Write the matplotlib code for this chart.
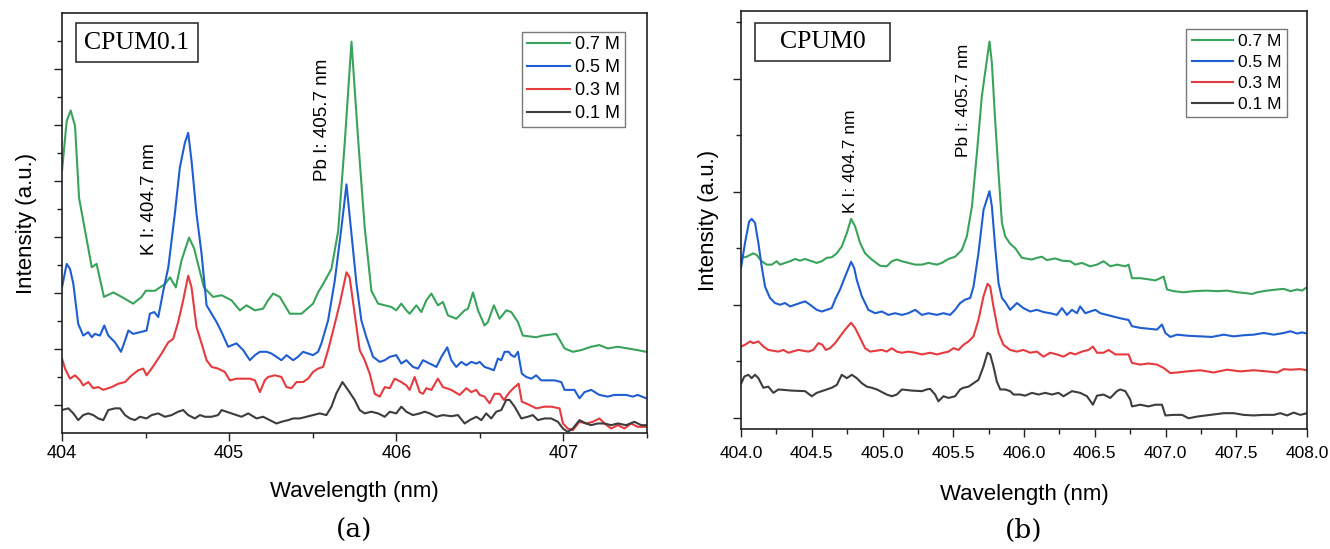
import numpy as np
import matplotlib.pyplot as plt
from matplotlib.patches import Rectangle

# ---- (a) CPUM0.1 spectra: wavelength (nm) / intensity (a.u.) ----
wl_a_07 = [404.000, 404.028, 404.052, 404.078, 404.102, 404.178, 404.207, 404.251, 404.307, 404.357,
           404.426, 404.476, 404.502, 404.556, 404.616, 404.646, 404.681, 404.715, 404.760, 404.790,
           404.849, 404.904, 404.955, 405.014, 405.064, 405.104, 405.154, 405.203, 405.233, 405.263,
           405.303, 405.363, 405.433, 405.502, 405.532, 405.562, 405.612, 405.652, 405.692, 405.732,
           405.771, 405.811, 405.851, 405.891, 405.931, 405.971, 406.000, 406.030, 406.060, 406.080,
           406.120, 406.150, 406.180, 406.210, 406.249, 406.279, 406.309, 406.359, 406.409, 406.429,
           406.459, 406.489, 406.528, 406.548, 406.584, 406.618, 406.658, 406.688, 406.728, 406.757,
           406.837, 406.877, 406.957, 407.007, 407.056, 407.106, 407.166, 407.215, 407.265, 407.325,
           407.385, 407.444, 407.495]
int_a_07 = [46.8, 55.7, 57.6, 54.8, 42.0, 29.6, 30.2, 24.3, 25.1, 24.3,
            23.1, 24.3, 25.4, 25.4, 26.6, 27.8, 26.0, 30.8, 34.9, 33.0,
            26.0, 24.3, 24.6, 23.7, 21.9, 22.8, 21.9, 22.2, 23.7, 24.9,
            24.3, 21.3, 21.3, 23.1, 25.1, 26.6, 29.3, 36.0, 52.0, 69.9,
            52.7, 36.7, 25.4, 23.1, 22.8, 22.5, 21.9, 23.1, 21.9, 21.3,
            22.8, 21.6, 23.7, 24.9, 22.8, 23.4, 21.0, 20.4, 21.9, 22.2,
            25.1, 21.9, 19.2, 19.8, 22.8, 20.4, 21.9, 21.6, 19.8, 17.4,
            17.1, 17.4, 17.7, 15.1, 14.5, 14.8, 15.4, 15.7, 15.1, 15.4,
            15.1, 14.8, 14.5]

wl_a_05 = [404.000, 404.028, 404.048, 404.068, 404.097, 404.127, 404.157, 404.178, 404.197, 404.227,
           404.253, 404.277, 404.317, 404.353, 404.377, 404.397, 404.426, 404.466, 404.506, 404.526,
           404.552, 404.576, 404.606, 404.636, 404.675, 404.705, 404.735, 404.755, 404.775, 404.805,
           404.835, 404.865, 404.895, 404.925, 404.955, 404.994, 405.044, 405.084, 405.124, 405.154,
           405.184, 405.224, 405.253, 405.283, 405.313, 405.343, 405.383, 405.412, 405.442, 405.472,
           405.502, 405.532, 405.552, 405.592, 405.632, 405.672, 405.702, 405.732, 405.762, 405.791,
           405.821, 405.861, 405.901, 405.931, 405.961, 406.000, 406.030, 406.060, 406.100, 406.130,
           406.160, 406.200, 406.240, 406.270, 406.305, 406.329, 406.359, 406.389, 406.419, 406.449,
           406.479, 406.499, 406.528, 406.558, 406.584, 406.608, 406.628, 406.648, 406.672, 406.688,
           406.708, 406.728, 406.751, 406.778, 406.808, 406.837, 406.867, 406.947, 406.987, 407.007,
           407.066, 407.096, 407.126, 407.166, 407.215, 407.265, 407.305, 407.375, 407.415, 407.444,
           407.495]
int_a_05 = [26.0, 30.2, 29.3, 26.6, 19.5, 17.4, 18.0, 17.1, 17.7, 17.4,
            19.2, 17.4, 16.2, 14.5, 16.5, 18.3, 17.7, 18.0, 18.3, 21.3,
            21.6, 20.7, 25.4, 29.6, 39.1, 47.4, 51.8, 53.6, 48.6, 39.1,
            32.0, 22.8, 21.3, 19.8, 18.0, 15.4, 16.0, 14.8, 13.0, 13.9,
            14.5, 14.5, 14.2, 13.6, 13.0, 13.9, 13.0, 13.6, 14.5, 14.2,
            13.9, 14.5, 16.0, 20.1, 27.2, 36.7, 44.4, 35.5, 26.6, 20.1,
            17.1, 13.6, 12.7, 13.0, 13.6, 13.9, 12.4, 13.0, 11.8, 11.5,
            13.0, 12.4, 11.8, 13.6, 15.3, 13.0, 11.8, 12.7, 12.1, 12.7,
            12.4, 12.7, 11.8, 11.5, 11.2, 13.3, 13.0, 14.5, 14.5, 13.9,
            13.6, 14.5, 10.6, 10.0, 9.7, 10.3, 9.4, 9.4, 9.1, 7.7,
            7.7, 6.2, 7.3, 7.7, 6.8, 6.5, 6.8, 6.8, 6.5, 6.8,
            6.2]

wl_a_03 = [404.000, 404.018, 404.048, 404.078, 404.108, 404.127, 404.157, 404.187, 404.217, 404.247,
           404.297, 404.337, 404.377, 404.417, 404.456, 404.486, 404.506, 404.536, 404.556, 404.596,
           404.636, 404.665, 404.695, 404.725, 404.755, 404.775, 404.805, 404.835, 404.865, 404.895,
           404.934, 404.974, 405.004, 405.044, 405.094, 405.124, 405.154, 405.184, 405.213, 405.233,
           405.273, 405.313, 405.343, 405.373, 405.403, 405.442, 405.472, 405.502, 405.532, 405.562,
           405.592, 405.622, 405.662, 405.702, 405.721, 405.751, 405.781, 405.811, 405.841, 405.871,
           405.901, 405.931, 405.961, 405.990, 406.030, 406.060, 406.080, 406.110, 406.140, 406.160,
           406.180, 406.210, 406.249, 406.279, 406.329, 406.379, 406.419, 406.449, 406.479, 406.499,
           406.528, 406.558, 406.588, 406.618, 406.644, 406.678, 406.708, 406.732, 406.751, 406.797,
           406.837, 406.887, 406.927, 406.977, 406.997, 407.026, 407.056, 407.096, 407.136, 407.176,
           407.215, 407.246, 407.285, 407.325, 407.365, 407.405, 407.444, 407.495]
int_a_03 = [13.3, 11.5, 9.7, 10.3, 9.4, 8.5, 9.1, 8.0, 8.2, 7.7,
            8.2, 8.8, 9.1, 10.3, 11.2, 11.5, 10.3, 11.5, 12.4, 14.2,
            16.2, 16.8, 19.8, 23.7, 28.1, 26.0, 18.9, 16.0, 13.0, 11.8,
            11.5, 10.9, 9.4, 9.7, 9.7, 9.7, 9.4, 7.3, 9.4, 10.0,
            10.3, 10.0, 8.2, 8.0, 9.1, 9.1, 9.7, 10.9, 11.5, 11.8,
            14.8, 18.3, 23.1, 28.7, 27.8, 21.3, 14.8, 13.0, 10.6, 7.0,
            6.5, 8.2, 8.0, 9.7, 9.1, 8.5, 7.7, 10.0, 7.3, 7.0,
            8.0, 7.7, 9.7, 8.2, 7.7, 6.8, 8.0, 7.3, 7.7, 6.8,
            6.5, 5.3, 7.0, 7.0, 5.9, 7.3, 8.2, 8.8, 5.6, 5.0,
            4.4, 4.7, 4.7, 4.4, 1.7, 0.8, 0.5, 2.0, 1.7, 2.0,
            2.6, 1.7, 0.8, 1.4, 0.8, 1.7, 1.1, 1.1]

wl_a_01 = [404.000, 404.038, 404.068, 404.097, 404.127, 404.157, 404.187, 404.217, 404.247, 404.277,
           404.317, 404.347, 404.377, 404.406, 404.436, 404.466, 404.506, 404.536, 404.576, 404.616,
           404.656, 404.695, 404.725, 404.755, 404.795, 404.825, 404.855, 404.895, 404.934, 404.955,
           404.984, 405.014, 405.044, 405.074, 405.114, 405.164, 405.203, 405.243, 405.283, 405.313,
           405.353, 405.383, 405.423, 405.463, 405.502, 405.542, 405.582, 405.612, 405.642, 405.678,
           405.711, 405.751, 405.781, 405.811, 405.851, 405.891, 405.931, 405.961, 406.000, 406.030,
           406.060, 406.100, 406.140, 406.170, 406.200, 406.240, 406.279, 406.329, 406.369, 406.409,
           406.439, 406.479, 406.509, 406.538, 406.568, 406.598, 406.628, 406.658, 406.678, 406.708,
           406.748, 406.787, 406.817, 406.847, 406.887, 406.927, 406.967, 406.997, 407.026, 407.056,
           407.096, 407.136, 407.166, 407.205, 407.246, 407.285, 407.325, 407.375, 407.425, 407.465,
           407.495]
int_a_01 = [4.1, 4.4, 3.5, 2.3, 3.2, 3.5, 3.2, 2.6, 2.3, 4.1,
            4.4, 4.4, 3.2, 2.6, 2.3, 2.9, 2.6, 3.2, 3.5, 2.9,
            3.2, 3.8, 4.1, 3.2, 2.6, 3.2, 2.9, 2.9, 3.2, 4.1,
            3.8, 3.5, 3.2, 2.9, 3.5, 2.6, 2.9, 2.3, 1.7, 2.0,
            2.3, 2.6, 2.6, 2.9, 3.2, 3.5, 3.2, 4.7, 7.1, 9.1,
            7.7, 5.9, 4.1, 3.5, 3.8, 3.5, 2.9, 3.8, 3.5, 4.7,
            3.8, 3.2, 3.5, 3.8, 3.5, 2.9, 3.2, 3.0, 3.2, 1.7,
            2.3, 2.9, 2.3, 3.5, 2.6, 3.8, 4.1, 5.9, 5.9, 4.7,
            2.6, 2.9, 3.2, 2.3, 2.6, 2.6, 2.0, 0.8, 0.2, 0.8,
            2.3, 1.7, 1.4, 1.7, 1.7, 1.4, 1.7, 1.4, 2.0, 1.4,
            1.4]

# ---- (b) CPUM0 spectra ----
wl_b_07 = [404.000, 404.040, 404.087, 404.111, 404.146, 404.182, 404.217, 404.252, 404.276, 404.311,
           404.347, 404.382, 404.417, 404.453, 404.500, 404.535, 404.571, 404.606, 404.641, 404.677,
           404.712, 404.748, 404.778, 404.806, 404.842, 404.877, 404.924, 404.983, 405.030, 405.066,
           405.101, 405.137, 405.183, 405.231, 405.278, 405.325, 405.384, 405.419, 405.466, 405.513,
           405.561, 405.596, 405.632, 405.667, 405.702, 405.738, 405.756, 405.773, 405.796, 405.820,
           405.844, 405.867, 405.902, 405.938, 405.985, 406.056, 406.091, 406.127, 406.162, 406.221,
           406.268, 406.327, 406.362, 406.409, 406.468, 406.516, 406.562, 406.610, 406.657, 406.716,
           406.739, 406.763, 406.822, 406.880, 406.928, 406.963, 406.987, 407.011, 407.058, 407.128,
           407.199, 407.294, 407.364, 407.435, 407.506, 407.552, 407.612, 407.647, 407.718, 407.789,
           407.836, 407.883, 407.930, 407.965, 408.000]
int_b_07 = [28.3, 28.5, 29.1, 28.8, 27.7, 27.1, 27.1, 27.7, 27.1, 27.4,
            27.7, 28.1, 27.8, 28.1, 27.7, 27.4, 27.7, 28.3, 28.4, 29.1,
            30.3, 32.7, 35.2, 33.9, 30.9, 29.1, 28.0, 26.9, 26.8, 27.7,
            28.0, 27.7, 27.4, 27.1, 27.1, 27.4, 27.1, 27.4, 28.1, 28.5,
            29.7, 32.1, 37.4, 46.8, 56.9, 63.4, 66.6, 62.8, 52.7, 43.3,
            34.5, 32.1, 30.8, 30.0, 28.3, 28.0, 28.3, 28.5, 27.9, 28.2,
            27.8, 27.7, 27.1, 27.4, 26.8, 27.1, 27.7, 26.8, 27.1, 26.8,
            27.1, 24.7, 24.7, 24.5, 24.3, 24.7, 25.0, 22.7, 22.4, 22.2,
            22.4, 22.5, 22.4, 22.5, 22.2, 22.1, 21.9, 22.2, 22.5, 22.7,
            22.8, 22.4, 22.7, 22.5, 23.1]

wl_b_05 = [404.000, 404.028, 404.057, 404.075, 404.099, 404.123, 404.146, 404.170, 404.205, 404.240,
           404.276, 404.311, 404.347, 404.382, 404.417, 404.453, 404.488, 404.535, 404.571, 404.606,
           404.641, 404.665, 404.700, 404.736, 404.778, 404.800, 404.818, 404.854, 404.900, 404.948,
           404.995, 405.042, 405.089, 405.137, 405.183, 405.231, 405.278, 405.325, 405.384, 405.431,
           405.478, 405.513, 405.549, 405.584, 405.620, 405.643, 405.678, 405.714, 405.756, 405.773,
           405.796, 405.820, 405.844, 405.867, 405.902, 405.950, 405.996, 406.044, 406.091, 406.138,
           406.185, 406.233, 406.268, 406.303, 406.339, 406.374, 406.397, 406.433, 406.468, 406.504,
           406.539, 406.586, 406.633, 406.680, 406.739, 406.763, 406.822, 406.940, 406.975, 406.999,
           407.034, 407.081, 407.163, 407.246, 407.329, 407.411, 407.482, 407.552, 407.623, 407.694,
           407.765, 407.836, 407.883, 407.930, 407.965, 408.000]
int_b_05 = [26.5, 30.9, 34.7, 35.2, 34.5, 30.9, 26.8, 23.2, 21.2, 20.3,
            20.0, 20.3, 19.7, 20.0, 20.3, 20.6, 20.0, 19.1, 18.8, 19.1,
            19.4, 20.9, 22.7, 25.0, 27.6, 26.5, 24.4, 21.5, 19.1, 18.5,
            18.8, 18.2, 18.5, 18.2, 18.5, 19.1, 18.2, 18.5, 18.2, 18.5,
            18.2, 19.1, 20.3, 20.9, 21.2, 23.2, 29.1, 36.8, 40.1, 37.4,
            30.3, 23.8, 21.2, 20.5, 19.1, 20.3, 19.4, 18.8, 19.1, 18.7,
            18.5, 18.2, 19.4, 18.2, 19.1, 18.5, 19.7, 18.5, 18.8, 19.1,
            18.5, 18.2, 17.9, 17.6, 17.3, 16.2, 15.9, 15.6, 16.5, 15.0,
            14.3, 14.7, 14.5, 14.4, 14.3, 14.7, 14.4, 14.6, 14.7, 15.0,
            14.7, 15.0, 15.3, 14.9, 15.1, 14.9]

wl_b_03 = [404.000, 404.028, 404.064, 404.087, 404.123, 404.158, 404.193, 404.264, 404.299, 404.335,
           404.405, 404.476, 404.511, 404.547, 404.575, 404.599, 404.629, 404.665, 404.700, 404.736,
           404.778, 404.806, 404.842, 404.877, 404.912, 404.995, 405.030, 405.066, 405.101, 405.137,
           405.183, 405.231, 405.278, 405.337, 405.384, 405.431, 405.466, 405.502, 405.537, 405.572,
           405.608, 405.643, 405.678, 405.714, 405.742, 405.761, 405.784, 405.820, 405.855, 405.902,
           405.950, 405.996, 406.044, 406.091, 406.138, 406.185, 406.233, 406.279, 406.327, 406.362,
           406.409, 406.456, 406.487, 406.516, 406.562, 406.598, 406.645, 406.739, 406.763, 406.822,
           406.880, 406.940, 406.987, 407.034, 407.081, 407.152, 407.246, 407.340, 407.435, 407.529,
           407.623, 407.718, 407.789, 407.836, 407.883, 407.953, 408.000]
int_b_03 = [12.6, 12.9, 13.5, 13.2, 13.5, 12.6, 12.0, 11.7, 12.0, 11.5,
            12.0, 11.7, 12.0, 13.2, 12.9, 12.0, 12.3, 13.2, 14.4, 15.6,
            16.8, 15.9, 14.1, 12.3, 11.7, 12.0, 11.7, 12.3, 11.7, 11.5,
            11.7, 11.5, 11.2, 11.5, 11.2, 11.5, 11.7, 12.3, 12.0, 12.9,
            13.5, 14.4, 17.3, 21.5, 23.7, 23.2, 19.7, 15.0, 12.9, 12.0,
            11.7, 12.0, 11.5, 11.7, 10.8, 11.5, 11.2, 10.8, 11.5, 11.2,
            11.7, 12.0, 12.6, 11.5, 11.5, 12.0, 11.2, 11.2, 9.7, 9.4,
            9.6, 9.4, 8.8, 7.9, 8.0, 8.2, 8.4, 8.0, 8.5, 8.2,
            8.4, 8.2, 8.0, 8.6, 8.5, 8.6, 8.4]

wl_b_01 = [404.000, 404.024, 404.052, 404.075, 404.099, 404.123, 404.158, 404.193, 404.229, 404.264,
           404.358, 404.453, 404.500, 404.535, 404.606, 404.641, 404.677, 404.712, 404.748, 404.783,
           404.818, 404.854, 404.889, 404.924, 404.960, 405.030, 405.066, 405.101, 405.137, 405.207,
           405.278, 405.313, 405.337, 405.372, 405.395, 405.431, 405.466, 405.513, 405.549, 405.572,
           405.608, 405.643, 405.678, 405.714, 405.742, 405.761, 405.784, 405.808, 405.832, 405.867,
           405.902, 405.926, 405.973, 406.008, 406.056, 406.103, 406.150, 406.197, 406.244, 406.279,
           406.339, 406.397, 406.445, 406.487, 406.516, 406.562, 406.610, 406.657, 406.680, 406.716,
           406.751, 406.763, 406.822, 406.880, 406.928, 406.975, 406.999, 407.058, 407.117, 407.163,
           407.223, 407.317, 407.411, 407.482, 407.552, 407.623, 407.694, 407.765, 407.812, 407.859,
           407.906, 407.953, 408.000]
int_b_01 = [6.0, 7.3, 7.6, 7.0, 7.6, 7.0, 5.3, 5.5, 4.4, 5.0,
            4.8, 4.7, 3.8, 4.4, 5.0, 5.3, 5.8, 7.6, 7.0, 7.6,
            7.0, 6.1, 5.5, 5.3, 5.0, 4.1, 3.8, 4.1, 5.0, 4.8,
            4.7, 5.0, 5.1, 4.1, 2.9, 3.8, 3.5, 3.8, 5.0, 5.3,
            5.5, 6.1, 6.7, 9.1, 11.5, 11.2, 9.1, 6.4, 5.0, 5.0,
            4.7, 4.1, 4.1, 3.9, 4.4, 4.1, 4.4, 4.1, 4.4, 3.8,
            4.7, 4.4, 3.8, 2.3, 3.9, 4.1, 3.5, 4.7, 5.0, 4.7,
            3.2, 2.0, 2.3, 2.0, 2.3, 2.3, 0.4, 0.5, 0.5, -0.1,
            0.2, 0.5, 0.8, 0.8, 0.5, 0.4, 0.5, 0.5, 0.8, 0.4,
            0.9, 0.5, 0.8]

conc_labels = ['0.7 M', '0.5 M', '0.3 M', '0.1 M']
colors = ['#3aa35b', '#1f5ed0', '#e53a3e', '#3d3d3d']

plt.rcParams['font.family'] = 'Liberation Sans'
plt.rcParams['axes.linewidth'] = 1.2
plt.rcParams['axes.edgecolor'] = '#222222'

fig = plt.figure(figsize=(13.3, 5.49), dpi=100)
axA = fig.add_axes([62 / 1330, 1 - 433 / 549, 585 / 1330, 420 / 549])
axB = fig.add_axes([741 / 1330, 1 - 429 / 549, 566 / 1330, 418 / 549])

spectra_a = [(wl_a_07, int_a_07), (wl_a_05, int_a_05), (wl_a_03, int_a_03), (wl_a_01, int_a_01)]
spectra_b = [(wl_b_07, int_b_07), (wl_b_05, int_b_05), (wl_b_03, int_b_03), (wl_b_01, int_b_01)]

for ax, spectra in ((axA, spectra_a), (axB, spectra_b)):
    for (wl, inten), lab, col in zip(spectra, conc_labels, colors):
        ax.plot(wl, inten, color=col, lw=1.5, label=lab)
    ax.tick_params(which='both', direction='out', width=1.0, color='#222222', labelleft=False)
    ax.tick_params(which='major', length=6)
    ax.tick_params(which='minor', length=3.5)
    ax.set_ylabel('Intensity (a.u.)', fontsize=16)

# panel (a) axes
axA.set_xlim(404, 407.5)
axA.set_ylim(0, 75)
axA.set_xticks([404, 405, 406, 407])
axA.set_xticks([404.5, 405.5, 406.5, 407.5], minor=True)
axA.set_yticks(np.arange(5, 70, 10))
axA.set_yticks(np.arange(10, 75, 10), minor=True)
axA.tick_params(axis='x', which='major', labelsize=13, pad=3)
axA.set_xlabel('Wavelength (nm)', fontsize=16, labelpad=13)
axA.yaxis.labelpad = 12

# panel (b) axes
axB.set_xlim(404, 408)
axB.set_ylim(-2, 72)
xt = np.arange(404, 408.01, 0.5)
axB.set_xticks(xt)
axB.set_xticklabels(['%.1f' % v for v in xt])
axB.set_xticks(xt[:-1] + 0.25, minor=True)
axB.set_yticks([0, 20, 40, 60])
axB.set_yticks([10, 30, 50, 70], minor=True)
axB.tick_params(axis='x', which='major', labelsize=12.5, pad=6)
axB.set_xlabel('Wavelength (nm)', fontsize=16, labelpad=17)
axB.yaxis.labelpad = 10

# line identifications
axA.text(404.526, 31.7, 'K I: 404.7 nm', rotation=90, ha='center', va='bottom', fontsize=13.5)
axA.text(405.560, 45.0, 'Pb I: 405.7 nm', rotation=90, ha='center', va='bottom', fontsize=13.5)
axB.text(404.771, 36.3, 'K I: 404.7 nm', rotation=90, ha='center', va='bottom', fontsize=12.5)
axB.text(405.574, 46.2, 'Pb I: 405.7 nm', rotation=90, ha='center', va='bottom', fontsize=12.5)

# sample name boxes
for ax, name, (x0, y0, w, h) in ((axA, 'CPUM0.1', (0.024, 0.883, 0.2085, 0.093)),
                                 (axB, 'CPUM0', (0.0247, 0.880, 0.2383, 0.091))):
    ax.add_patch(Rectangle((x0, y0), w, h, transform=ax.transAxes, fill=False,
                           edgecolor='#333333', lw=1.2))
    ax.text(x0 + w / 2, y0 + h / 2, name, transform=ax.transAxes, ha='center', va='center',
            fontfamily='Liberation Serif', fontsize=18.5)

legA = axA.legend(loc='upper right', bbox_to_anchor=(0.962, 0.955), fontsize=13, frameon=True,
                  fancybox=False, edgecolor='#777777', framealpha=1, borderaxespad=0,
                  handlelength=2.4, handletextpad=0.3, labelspacing=0.33, borderpad=0.25)
legB = axB.legend(loc='upper right', bbox_to_anchor=(0.965, 0.957), fontsize=12.5, frameon=True,
                  fancybox=False, edgecolor='#777777', framealpha=1, borderaxespad=0,
                  handlelength=2.4, handletextpad=0.3, labelspacing=0.33, borderpad=0.3)
for leg in (legA, legB):
    leg.get_frame().set_linewidth(1.0)

fig.text(354.5 / 1330, 1 - 530 / 549, '(a)', ha='center', va='center',
         fontfamily='DejaVu Serif', fontsize=19)
fig.text(1024 / 1330, 1 - 530 / 549, '(b)', ha='center', va='center',
         fontfamily='DejaVu Serif', fontsize=19)

fig.savefig('out.png', dpi=100)
